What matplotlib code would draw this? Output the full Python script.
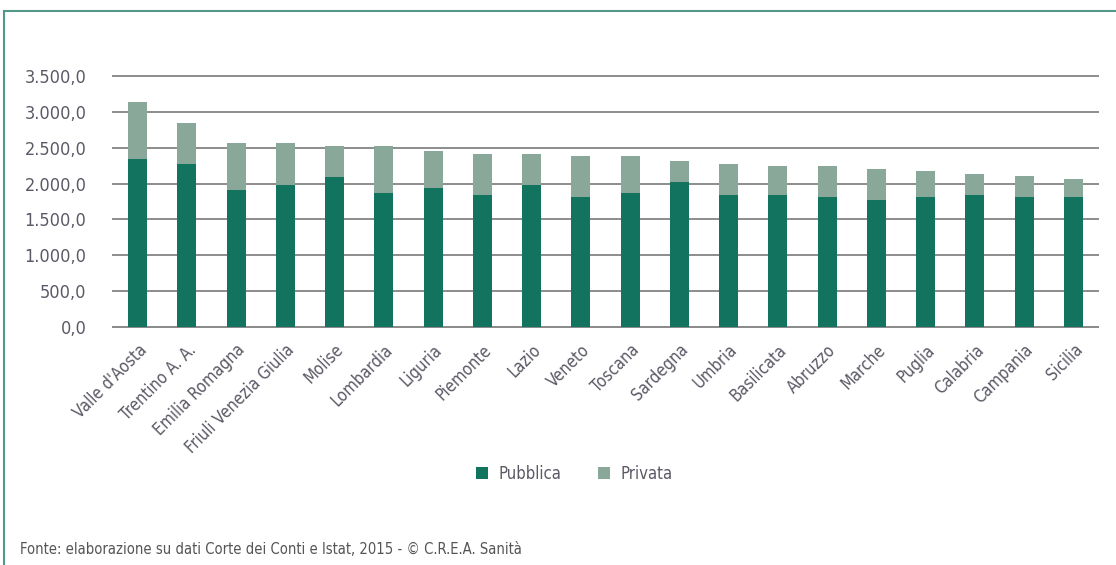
import numpy as np
import matplotlib
matplotlib.use('Agg')
from matplotlib import pyplot as plt
from matplotlib.lines import Line2D
from matplotlib.ticker import FuncFormatter
from matplotlib import font_manager

regioni = ['Valle d\'Aosta', 'Trentino A. A.', 'Emilia Romagna', 'Friuli Venezia Giulia',
           'Molise', 'Lombardia', 'Liguria', 'Piemonte', 'Lazio', 'Veneto', 'Toscana',
           'Sardegna', 'Umbria', 'Basilicata', 'Abruzzo', 'Marche', 'Puglia', 'Calabria',
           'Campania', 'Sicilia']
pubblica = [2341, 2266, 1917, 1978, 2094, 1871, 1945, 1843, 1978, 1810, 1871,
            2015, 1843, 1838, 1810, 1768, 1810, 1843, 1810, 1810]
privata = [791, 582, 647, 586, 433, 656, 503, 572, 437, 573, 512,
           302, 432, 405, 433, 438, 363, 288, 289, 251]
y_ticks = [0, 500, 1000, 1500, 2000, 2500, 3000, 3500]

col_pub = '#12735e'
col_priv = '#8aa89a'
col_txt = '#5a5a66'
col_grid = '#8c8c8c'

# font stretta se disponibile
installed = {f.name for f in font_manager.fontManager.ttflist}
if 'Liberation Sans Narrow' in installed:
    plt.rcParams['font.family'] = ['Liberation Sans Narrow', 'DejaVu Sans']
else:
    plt.rcParams['font.family'] = ['DejaVu Sans']
    plt.rcParams['font.stretch'] = 'condensed'

fig = plt.figure(figsize=(11.16, 5.65), dpi=100)
ax = fig.add_axes([113 / 1116, 1 - 327 / 565, 985 / 1116, 251 / 565])

x = np.arange(len(regioni))
ax.bar(x, pubblica, width=0.39, color=col_pub, label='Pubblica', zorder=3)
ax.bar(x, privata, width=0.39, bottom=pubblica, color=col_priv, label='Privata', zorder=3)

ax.set_xlim(-0.5, len(regioni) - 0.5)
ax.set_ylim(0, 3500)
ax.set_yticks(y_ticks)
ax.yaxis.set_major_formatter(FuncFormatter(
    lambda v, p: '{:,.1f}'.format(v).replace(',', 'X').replace('.', ',').replace('X', '.')))
ax.grid(axis='y', color=col_grid, linewidth=1.4, zorder=0)
for gl in ax.get_ygridlines():
    gl.set_clip_on(False)
for s in ['top', 'right', 'left']:
    ax.spines[s].set_visible(False)
ax.spines['bottom'].set_color(col_grid)
ax.spines['bottom'].set_linewidth(1.4)
ax.tick_params(length=0, colors=col_txt)
ax.tick_params(axis='y', labelsize=13, pad=19)
ax.set_xticks(x)
ax.set_xticklabels(regioni, rotation=45, ha='right', rotation_mode='anchor')
ax.tick_params(axis='x', labelsize=12, pad=10)

ax.legend(loc='center', bbox_to_anchor=(574 / 1116, 1 - 474 / 565),
          bbox_transform=fig.transFigure, ncol=2, frameon=False,
          fontsize=12, handlelength=0.75, handleheight=0.75, columnspacing=2.2,
          handletextpad=0.6, labelcolor=col_txt)

fig.text(20 / 1116, 1 - 549 / 565, 'Fonte: elaborazione su dati Corte dei Conti e Istat, 2015 - \u00a9 C.R.E.A. Sanit\u00e0',
         fontsize=10.6, color='#555555', va='center', ha='left')

# cornice verde in alto e a sinistra
frame_col = '#52998a'
fig.add_artist(Line2D([4 / 1116, 1], [1 - 11 / 565, 1 - 11 / 565], color=frame_col, linewidth=1.5,
                      transform=fig.transFigure))
fig.add_artist(Line2D([4 / 1116, 4 / 1116], [0, 1 - 11 / 565], color=frame_col, linewidth=1.5,
                      transform=fig.transFigure))

fig.savefig('out.png', dpi=100)
